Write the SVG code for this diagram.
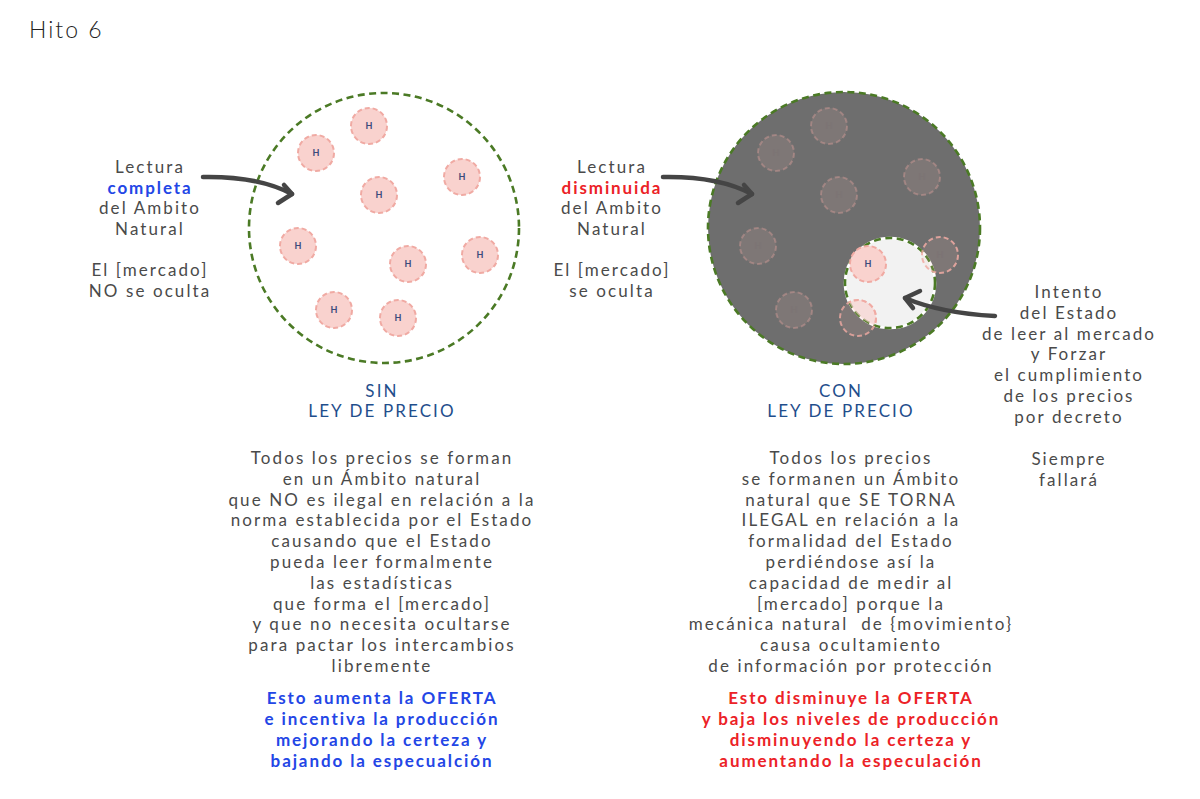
<svg xmlns="http://www.w3.org/2000/svg" width="1200" height="799" viewBox="0 0 1200 799">
<defs>
<style>
.t{font-family:Lato,"Open Sans",sans-serif;font-size:17px;fill:#4a4a4a;text-anchor:middle;letter-spacing:2.1px}
.blue{fill:#2346e6;font-weight:bold;letter-spacing:1.9px}
.red{fill:#ec2227;font-weight:bold;letter-spacing:1.9px}
.hd{fill:#1f4e8c}
.ring{fill:none;stroke:#4b7a25;stroke-width:2.6;stroke-dasharray:7 4.5}
.h{fill:#f9d2ce;stroke:#f0aaa3;stroke-width:2;stroke-dasharray:5 3}
.hdim{fill:#f4c0b8;fill-opacity:0.12;stroke:#f0aaa3;stroke-opacity:0.35;stroke-width:2;stroke-dasharray:5 3}
.hl{font-family:Lato,sans-serif;font-size:9px;font-weight:bold;fill:#3b4a7c;text-anchor:middle}
.hldim{font-family:Lato,sans-serif;font-size:9px;font-weight:bold;fill:#7a6f72;text-anchor:middle}
.arr{fill:none;stroke:#454545;stroke-width:4.5;stroke-linecap:round;stroke-linejoin:round}
</style>
<clipPath id="lightClip"><circle cx="890" cy="283" r="45"/></clipPath>
</defs>
<rect width="1200" height="799" fill="#ffffff"/>

<g id="title"><text x="29" y="38" style="font-family:Lato,sans-serif;font-size:23px;font-weight:300;fill:#222;letter-spacing:2px">Hito 6</text></g>

<g id="left-circle">
<circle cx="384" cy="228" r="135" fill="#ffffff" class="ring"/>
<g>
<circle class="h" cx="369" cy="126" r="18"/><text class="hl" x="369" y="129">H</text>
<circle class="h" cx="316" cy="153" r="18"/><text class="hl" x="316" y="156">H</text>
<circle class="h" cx="462" cy="177" r="18"/><text class="hl" x="462" y="180">H</text>
<circle class="h" cx="379" cy="195" r="18"/><text class="hl" x="379" y="198">H</text>
<circle class="h" cx="298" cy="246" r="18"/><text class="hl" x="298" y="249">H</text>
<circle class="h" cx="480" cy="255" r="18"/><text class="hl" x="480" y="258">H</text>
<circle class="h" cx="408" cy="264" r="18"/><text class="hl" x="408" y="267">H</text>
<circle class="h" cx="334" cy="310" r="18"/><text class="hl" x="334" y="313">H</text>
<circle class="h" cx="398" cy="318" r="18"/><text class="hl" x="398" y="321">H</text>
</g>
</g>

<g id="right-circle">
<circle cx="844" cy="228" r="136" fill="#6e6e6e"/>
<g>
<circle class="hdim" cx="829" cy="126" r="18"/><text class="hldim" x="829" y="129" opacity="0.3">H</text>
<circle class="hdim" cx="776" cy="153" r="18"/><text class="hldim" x="776" y="156" opacity="0.3">H</text>
<circle class="hdim" cx="922" cy="177" r="18"/><text class="hldim" x="922" y="180" opacity="0.3">H</text>
<circle class="hdim" cx="839" cy="195" r="18"/><text class="hldim" x="839" y="198" opacity="0.3">H</text>
<circle class="hdim" cx="758" cy="246" r="18"/><text class="hldim" x="758" y="249" opacity="0.3">H</text>
<circle class="hdim" cx="794" cy="310" r="18"/><text class="hldim" x="794" y="313" opacity="0.3">H</text>
</g>
<circle cx="844" cy="228" r="136" class="ring"/>
<circle cx="890" cy="283" r="45" fill="#f2f2f2" stroke="#ffffff" stroke-width="2.6"/>
<circle cx="890" cy="283" r="45" class="ring"/>
<circle class="hdim" cx="858" cy="318" r="18" style="stroke-opacity:0.8"/>
<g clip-path="url(#lightClip)"><circle class="h" cx="858" cy="318" r="18" style="fill-opacity:0.6"/></g>
<circle class="hdim" cx="940" cy="255" r="18" style="stroke-opacity:0.85"/><text class="hldim" x="940" y="258" opacity="0.4">H</text>
<circle class="h" cx="868" cy="264" r="18"/><text class="hl" x="868" y="267">H</text>
</g>

<g id="left-label" class="t">
<text x="150" y="173">Lectura</text>
<text x="150" y="194" class="blue">completa</text>
<text x="150" y="214">del Ambito</text>
<text x="150" y="235">Natural</text>
<text x="150" y="276">El [mercado]</text>
<text x="150" y="297">NO se oculta</text>
</g>

<g id="right-label" class="t">
<text x="612" y="173">Lectura</text>
<text x="612" y="194" class="red">disminuida</text>
<text x="612" y="214">del Ambito</text>
<text x="612" y="235">Natural</text>
<text x="612" y="276">El [mercado]</text>
<text x="612" y="297">se oculta</text>
</g>

<g id="state-label" class="t">
<text x="1069" y="298">Intento</text>
<text x="1069" y="319">del Estado</text>
<text x="1069" y="340">de leer al mercado</text>
<text x="1069" y="360">y Forzar</text>
<text x="1069" y="381">el cumplimiento</text>
<text x="1069" y="402">de los precios</text>
<text x="1069" y="423">por decreto</text>
<text x="1069" y="465">Siempre</text>
<text x="1069" y="486">fallará</text>
</g>

<g id="sin-title" class="t hd">
<text x="382" y="397">SIN</text>
<text x="382" y="417">LEY DE PRECIO</text>
</g>

<g id="con-title" class="t hd">
<text x="841" y="397">CON</text>
<text x="841" y="417">LEY DE PRECIO</text>
</g>

<g id="left-text" class="t">
<text x="382" y="464">Todos los precios se forman</text>
<text x="382" y="485">en un Ámbito natural</text>
<text x="382" y="506">que NO es ilegal en relación a la</text>
<text x="382" y="526">norma establecida por el Estado</text>
<text x="382" y="547">causando que el Estado</text>
<text x="382" y="568">pueda leer formalmente</text>
<text x="382" y="589">las estadísticas</text>
<text x="382" y="610">que forma el [mercado]</text>
<text x="382" y="630">y que no necesita ocultarse</text>
<text x="382" y="651">para pactar los intercambios</text>
<text x="382" y="672">libremente</text>
</g>

<g id="left-result" class="t blue">
<text x="382" y="704">Esto aumenta la OFERTA</text>
<text x="382" y="725">e incentiva la producción</text>
<text x="382" y="746">mejorando la certeza y</text>
<text x="382" y="767">bajando la especualción</text>
</g>

<g id="right-text" class="t">
<text x="851" y="464">Todos los precios</text>
<text x="851" y="485">se formanen un Ámbito</text>
<text x="851" y="506">natural que SE TORNA</text>
<text x="851" y="526">ILEGAL en relación a la</text>
<text x="851" y="547">formalidad del Estado</text>
<text x="851" y="568">perdiéndose así la</text>
<text x="851" y="589">capacidad de medir al</text>
<text x="851" y="610">[mercado] porque la</text>
<text x="851" y="630" xml:space="preserve">mecánica natural  de {movimiento}</text>
<text x="851" y="651">causa ocultamiento</text>
<text x="851" y="672">de información por protección</text>
</g>

<g id="right-result" class="t red">
<text x="851" y="704">Esto disminuye la OFERTA</text>
<text x="851" y="725">y baja los niveles de producción</text>
<text x="851" y="746">disminuyendo la certeza y</text>
<text x="851" y="767">aumentando la especulación</text>
</g>

<g id="connectors">
<path class="arr" d="M 203 177 Q 258 176 292 194"/>
<path class="arr" d="M 284 185 L 292 194 L 278 203"/>
<path class="arr" d="M 663 177 Q 718 176 752 194"/>
<path class="arr" d="M 744 185 L 752 194 L 738 203"/>
<path class="arr" d="M 995 316 Q 940 313 905 298"/>
<path class="arr" d="M 920 291 L 905 298 L 913 308"/>
</g>
</svg>
